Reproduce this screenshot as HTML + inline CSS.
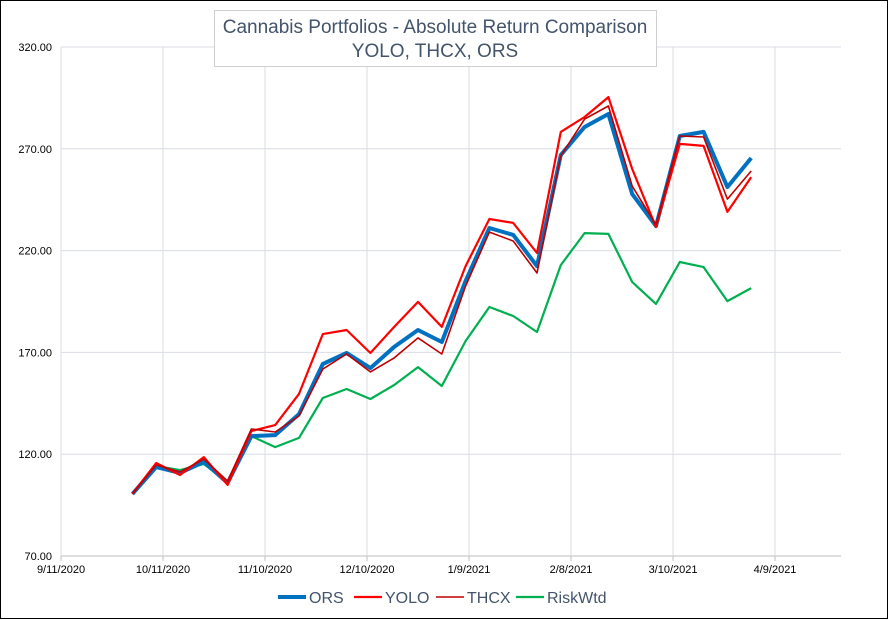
<!DOCTYPE html>
<html><head><meta charset="utf-8"><style>
body{margin:0;background:#fff;}
#wrap{position:relative;width:886px;height:617px;border:1px solid #000;background:#fff;font-family:"Liberation Sans",sans-serif;}
svg{position:absolute;left:0;top:0;}
</style></head><body>
<div id="wrap">
<svg id="chart" width="888" height="619"></svg>
</div>
<script>
const dayLabels=["9/11/2020","10/11/2020","11/10/2020","12/10/2020","1/9/2021","2/8/2021","3/10/2021","4/9/2021"];
const yTicks=[70,120,170,220,270,320];
const pointDays=[21,28,35,42,49,56,63,70,77,84,91,98,105,112,119,126,133,140,147,154,161,168,175,182,189,196,203];
const ors=[100.5,113.7,110.8,116.2,105.9,128.9,129.4,139.7,164.3,169.7,162.3,172.7,181.0,175.1,205.1,231.1,227.7,212.4,267.0,280.7,287.1,247.8,232.1,276.3,278.3,251.2,265.5];
const yolo=[100.5,115.7,109.8,118.6,104.9,131.4,134.3,149.6,179.0,181.0,169.7,182.5,194.8,182.5,212.4,235.5,233.6,218.8,278.3,285.6,295.4,260.1,231.6,272.4,271.4,239.0,256.1];
const thcx=[100.5,114.7,111.3,117.6,106.8,132.4,130.9,138.8,161.8,169.2,160.4,167.3,177.1,169.2,202.6,229.1,224.7,209.0,266.5,284.6,291.0,251.7,232.6,276.3,275.8,245.3,259.1];
const riskWtd=[100.5,114.2,112.2,115.2,106.3,128.9,123.5,128.0,147.6,152.0,147.1,154.0,162.8,153.5,175.6,192.3,187.9,180.0,212.9,228.6,228.2,204.6,193.8,214.4,211.9,195.2,201.6];

const NS="http://www.w3.org/2000/svg";
const svg=document.getElementById('chart');
const L=60,R=840,T=46,B=555,DMAX=229.4;
const x=d=>L+(d/DMAX)*(R-L);
const y=v=>B-(v-70)/250*(B-T);
function mk(tag,attrs){const e=document.createElementNS(NS,tag);for(const k in attrs)e.setAttribute(k,attrs[k]);svg.appendChild(e);return e;}

yTicks.forEach((t,i)=>{
  const g=mk('line',{x1:L,x2:R,y1:y(t),y2:y(t),stroke:i===0?'#bfbfbf':'#d9dde4','stroke-width':1});
  
  
  const lb=mk('text',{x:51,y:y(t)+4,'text-anchor':'end','font-size':11,fill:'#000'});
  lb.textContent=t.toFixed(2);
  
  
});
dayLabels.forEach((t,i)=>{
  const d=i*30;
  const g=mk('line',{x1:x(d),x2:x(d),y1:T,y2:B,stroke:'#d9dde4','stroke-width':1});
  
  
  const tk=mk('line',{x1:x(d),x2:x(d),y1:B,y2:B+5,stroke:'#bfbfbf'});
  
  
  const lb=mk('text',{x:x(d),y:572,'text-anchor':'middle','font-size':11,fill:'#000'});
  lb.textContent=t;
  
  
});

function series(vals,color,w,name){
  const pts=vals.map((v,i)=>x(pointDays[i]).toFixed(1)+','+y(v).toFixed(1)).join(' ');
  const p=mk('polyline',{points:pts,fill:'none',stroke:color,'stroke-width':w,'stroke-linejoin':'round'});
  
  
}
series(riskWtd,'#00b050',2.2,'riskwtd-line');
series(ors,'#0070c0',4,'ors-line');
series(yolo,'#ff0000',2.2,'yolo-line');
series(thcx,'#c00000',1.6,'thcx-line');

// title box
const tb=mk('rect',{x:213.5,y:9.5,width:442,height:56,fill:'#fff',stroke:'#d0d0d0'});


const t1=mk('text',{x:434,y:32,'text-anchor':'middle','font-size':19,fill:'#44546a'});
t1.textContent='Cannabis Portfolios - Absolute Return Comparison';


const t2=mk('text',{x:434,y:56,'text-anchor':'middle','font-size':19,fill:'#44546a'});
t2.textContent='YOLO, THCX, ORS';



// legend
const legend=[['ORS','#0070c0',4,277],['YOLO','#ff0000',2.2,353],['THCX','#c00000',1.6,435],['RiskWtd','#00b050',2.2,515]];
legend.forEach(l=>{
  const ln=mk('line',{x1:l[3],x2:l[3]+28,y1:596,y2:596,stroke:l[1],'stroke-width':l[2]});
  
  
  const tx=mk('text',{x:l[3]+31,y:602,'font-size':16,fill:'#44546a'});
  tx.textContent=l[0];
  
  
});
</script>
</body></html>
